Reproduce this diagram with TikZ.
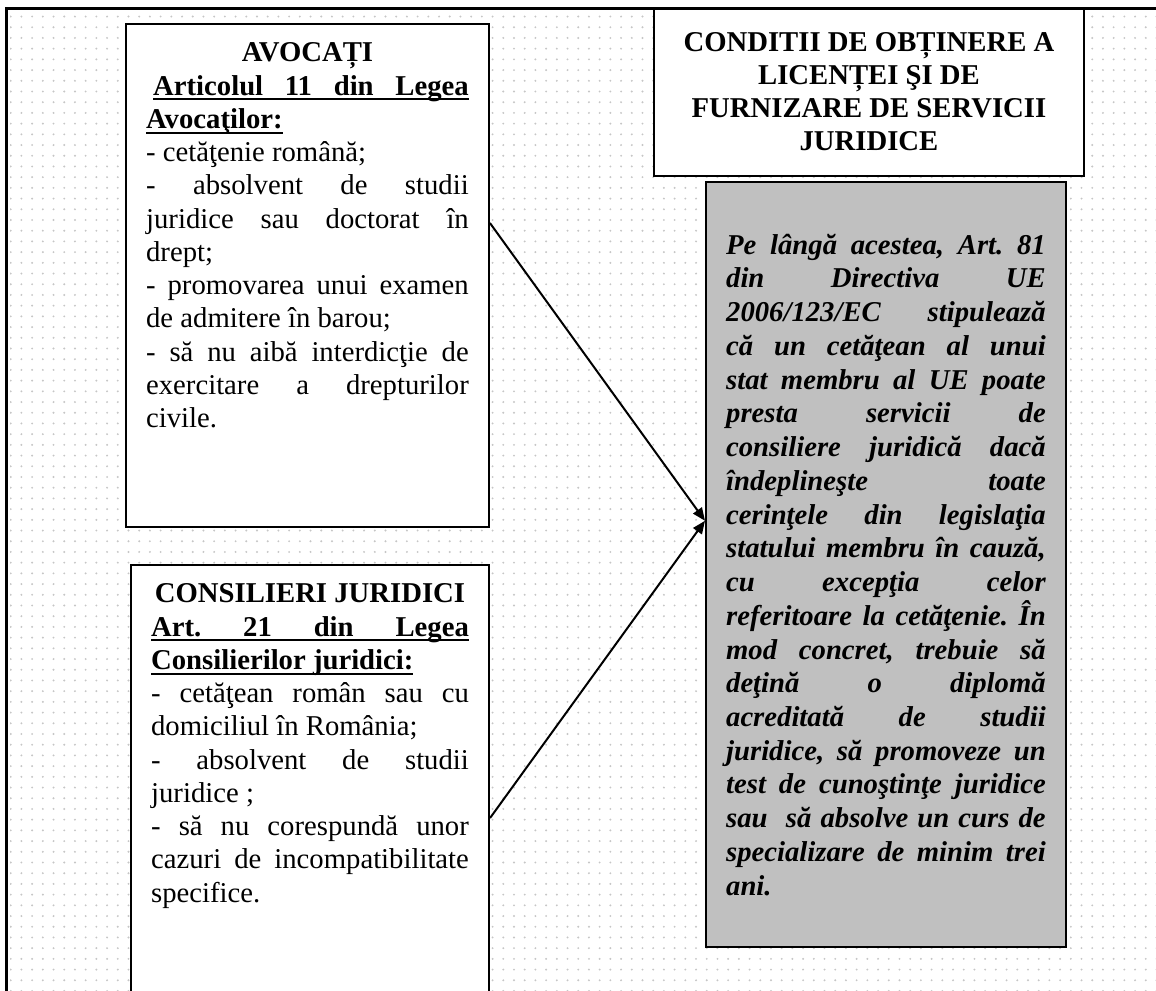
\documentclass[tikz,border=0pt]{standalone}
\usepackage{fontspec}
\setmainfont{Liberation Serif}
\usetikzlibrary{arrows.meta,calc,patterns.meta}
\definecolor{gri}{RGB}{192,192,192}
\frenchspacing
\hbadness=10000 \vbadness=10000 \hfuzz=3pt \vfuzz=3pt
\tikzset{
  caseta/.style={draw, line width=0.85pt, anchor=north west, inner xsep=8.6pt, inner ysep=6.2pt,
    fill=white, font=\fontsize{12.25}{14.2}\selectfont},
  sageata/.style={-{Triangle[length=5.5pt,width=4.5pt]}, line width=0.85pt},
}
\newcommand{\casetatext}[3]{\parbox[c][#2][t]{#1}{\hyphenpenalty=10000 \exhyphenpenalty=10000 \tolerance=10000 #3}}
\newcommand{\sublinie}[1]{\leavevmode\setbox0\hbox{#1}\rlap{\rule[-2.2pt]{\wd0}{0.8pt}}\box0}
\begin{document}
\begin{tikzpicture}[x=0.015cm, y=-0.015cm]
    \useasboundingbox (0,0) rectangle (1156,991);
    % fundal punctat si chenar
    \fill[white] (0,0) rectangle (1156,991);
    \fill[pattern={Dots[distance=4.57pt,radius=0.45pt]}, pattern color=gray!45] (10,11) rectangle (1156,991);
    \draw[line width=1.3pt] (6.5,991) -- (6.5,8.5) -- (1156,8.5);

    % avocati
    \node[caseta] (avocati) at (125,23) {\casetatext{137.7pt}{202.3pt}{%
        {\centering\strut\textbf{AVOCAȚI}\par}
        \textbf{\hspace*{3pt}\sublinie{\makebox[\dimexpr\linewidth-3pt\relax][s]{Articolul 11 din Legea}}}\par
        \textbf{\sublinie{Avocaţilor:}}\par
        - cetăţenie română;\par
        - absolvent de studii\linebreak juridice sau doctorat în\linebreak drept;\par
        - promovarea unui examen\linebreak de admitere în barou;\par
        - să nu aibă interdicţie de\linebreak exercitare a drepturilor\linebreak civile.\par}};

    % consilieri juridici
    \node[caseta] (consilieri) at (130,564) {\casetatext{135.6pt}{173.7pt}{%
        {\centering\strut\textbf{CONSILIERI JURIDICI}\par}
        \textbf{\sublinie{\makebox[\linewidth][s]{Art. 21 din Legea}}}\par
        \textbf{\sublinie{Consilierilor juridici:}}\par
        - cetăţean român sau cu\linebreak domiciliul în România;\par
        - absolvent de studii\linebreak juridice ;\par
        - să nu corespundă unor\linebreak cazuri de incompatibilitate\linebreak specifice.\par}};

    % titlu
    \node[caseta] (titlu) at (653,8.5) {\casetatext{166.3pt}{58.45pt}{%
        \vspace*{1.7pt}\centering\bfseries\fontsize{12.25}{14.1}\selectfont
        \strut CONDITII DE OBȚINERE A\\ LICENȚEI ŞI DE\\ FURNIZARE DE SERVICII\\ JURIDICE\par}};

    % directiva UE
    \node[caseta, fill=gri] (directiva) at (705,181) {\casetatext{136.4pt}{314.1pt}{%
        \vspace*{14.5pt}\bfseries\itshape\fontsize{12.25}{14.4}\selectfont
        \strut Pe lângă acestea, Art. 81\linebreak din Directiva UE\linebreak
        2006/123/EC stipulează\linebreak că un cetăţean al unui\linebreak
        stat membru al UE poate\linebreak presta servicii de\linebreak
        consiliere juridică dacă\linebreak îndeplineşte toate\linebreak
        cerinţele din legislaţia\linebreak statului membru în cauză,\linebreak
        cu excepţia celor\linebreak referitoare la cetăţenie. În\linebreak
        mod concret, trebuie să\linebreak deţină o diplomă\linebreak
        acreditată de studii\linebreak juridice, să promoveze un\linebreak
        test de cunoştinţe juridice\linebreak sau\ \ să absolve un curs de\linebreak
        specializare de minim trei\linebreak ani.\par}};

    % sageti
    \draw[sageata] ($(avocati.north east)!0.396!(avocati.south east)$) -- ($(directiva.north west)!0.443!(directiva.south west)$);
    \draw[sageata] ($(consilieri.north east)!0.58!(consilieri.south east)$) -- ($(directiva.north west)!0.443!(directiva.south west)$);
\end{tikzpicture}
\end{document}
